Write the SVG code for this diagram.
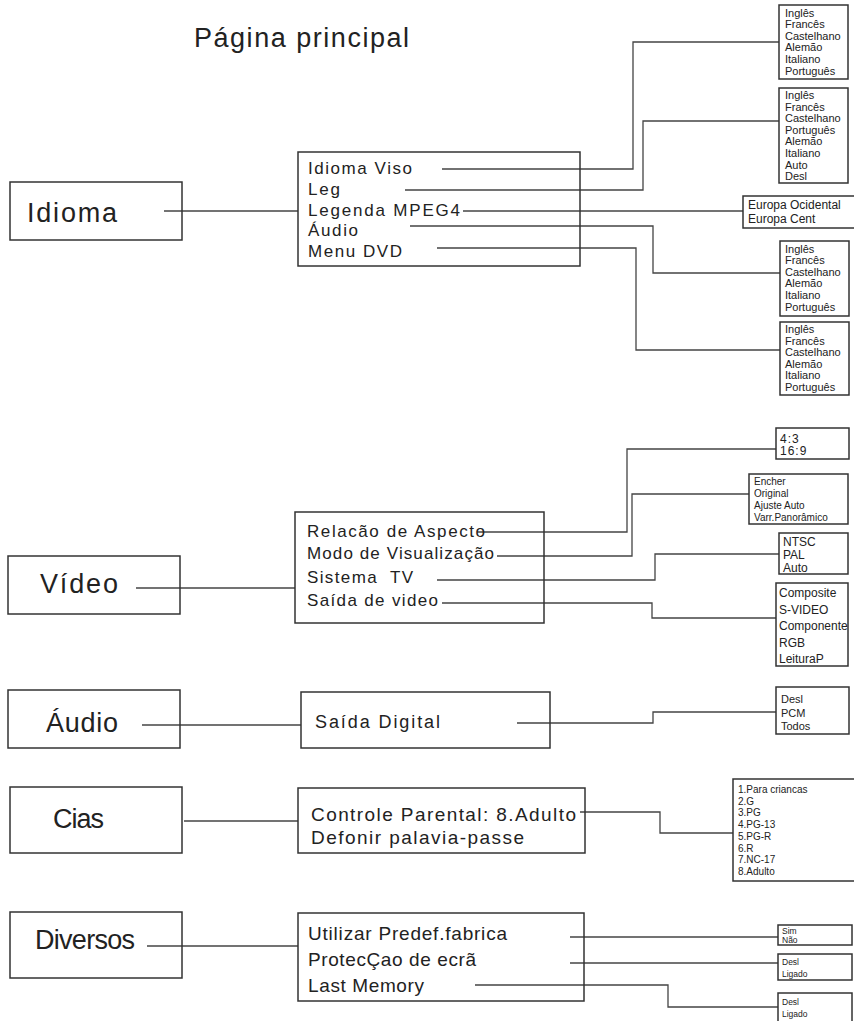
<svg xmlns="http://www.w3.org/2000/svg" width="854" height="1021" viewBox="0 0 854 1021">
<style>
.bg{fill:#ffffff}
.box{fill:none;stroke:#333333;stroke-width:1.5}
.t{font-family:"Liberation Sans",Arial,Helvetica,sans-serif;fill:#222222}
.big{font-size:27px}
.mid{font-size:17px}
.sub{font-size:19px}
.s12{font-size:12px}
.s11{font-size:11px}
.s10{font-size:10px}
.s9{font-size:8.5px}
.conn path{fill:none;stroke:#444444;stroke-width:1.3}
</style>
<rect class="bg" x="0" y="0" width="854" height="1021"/>
<text class="t" x="194" y="47" font-size="27" textLength="215" lengthAdjust="spacing">Página principal</text>

<g id="connectors" class="conn">
<path d="M164 211H298"/>
<path d="M442 169H633V42H779"/>
<path d="M405 190H643V121H779"/>
<path d="M463 211H743"/>
<path d="M410 226H653V273H780"/>
<path d="M437 248H636V350H780"/>
<path d="M136 588H295"/>
<path d="M477 532H627V449H776"/>
<path d="M497 556H632V494H749"/>
<path d="M437 580H655V554H779"/>
<path d="M442 603H652V618H776"/>
<path d="M142 725H301"/>
<path d="M517 723H653V712H776"/>
<path d="M184 821H298"/>
<path d="M580 812H660V833H733"/>
<path d="M147 946H298"/>
<path d="M570 937H778"/>
<path d="M570 963H778"/>
<path d="M475 985H668V1007H778"/>
</g>

<g id="idioma">
<rect class="box" x="10" y="182" width="172" height="58"/>
<text class="t big" x="27" y="222" textLength="90" lengthAdjust="spacing">Idioma</text>
</g>
<g id="idioma-menu">
<rect class="box" x="298" y="152" width="282" height="114"/>
<text class="t mid" x="308" y="174" textLength="104" lengthAdjust="spacing">Idioma Viso</text>
<text class="t mid" x="308" y="195" textLength="32" lengthAdjust="spacing">Leg</text>
<text class="t mid" x="308" y="216" textLength="152" lengthAdjust="spacing">Legenda MPEG4</text>
<text class="t mid" x="308" y="236" textLength="50" lengthAdjust="spacing">Áudio</text>
<text class="t mid" x="308" y="257" textLength="94" lengthAdjust="spacing">Menu DVD</text>
</g>
<g id="idioma-viso-opts">
<rect class="box" x="779" y="5" width="69" height="74"/>
<text class="t s11" x="785" y="16.5">Inglês</text>
<text class="t s11" x="785" y="28.1">Francês</text>
<text class="t s11" x="785" y="39.7">Castelhano</text>
<text class="t s11" x="785" y="51.3">Alemão</text>
<text class="t s11" x="785" y="62.9">Italiano</text>
<text class="t s11" x="785" y="74.5">Português</text>
</g>
<g id="leg-opts">
<rect class="box" x="779" y="88" width="69" height="95"/>
<text class="t s11" x="785" y="99">Inglês</text>
<text class="t s11" x="785" y="110.6">Francês</text>
<text class="t s11" x="785" y="122.2">Castelhano</text>
<text class="t s11" x="785" y="133.8">Português</text>
<text class="t s11" x="785" y="145.4">Alemão</text>
<text class="t s11" x="785" y="157">Italiano</text>
<text class="t s11" x="785" y="168.6">Auto</text>
<text class="t s11" x="785" y="180.2">Desl</text>
</g>
<g id="mpeg4-opts">
<rect class="box" x="743" y="196" width="113" height="32"/>
<text class="t s12" x="748" y="209">Europa Ocidental</text>
<text class="t s12" x="748" y="223">Europa Cent</text>
</g>
<g id="audio-lang-opts">
<rect class="box" x="780" y="241" width="69" height="75"/>
<text class="t s11" x="785" y="252.5">Inglês</text>
<text class="t s11" x="785" y="264.1">Francês</text>
<text class="t s11" x="785" y="275.7">Castelhano</text>
<text class="t s11" x="785" y="287.3">Alemão</text>
<text class="t s11" x="785" y="298.9">Italiano</text>
<text class="t s11" x="785" y="310.5">Português</text>
</g>
<g id="menu-dvd-opts">
<rect class="box" x="780" y="322" width="69" height="73"/>
<text class="t s11" x="785" y="333">Inglês</text>
<text class="t s11" x="785" y="344.6">Francês</text>
<text class="t s11" x="785" y="356.2">Castelhano</text>
<text class="t s11" x="785" y="367.8">Alemão</text>
<text class="t s11" x="785" y="379.4">Italiano</text>
<text class="t s11" x="785" y="391">Português</text>
</g>

<g id="video">
<rect class="box" x="8" y="556" width="172" height="58"/>
<text class="t big" x="40" y="593" textLength="78" lengthAdjust="spacing">Vídeo</text>
</g>
<g id="video-menu">
<rect class="box" x="295" y="512" width="249" height="111"/>
<text class="t mid" x="307" y="537" textLength="178" lengthAdjust="spacing">Relacão de Aspecto</text>
<text class="t mid" x="307" y="559" textLength="187" lengthAdjust="spacing">Modo de Visualização</text>
<text class="t mid" x="307" y="583" textLength="106" lengthAdjust="spacing" xml:space="preserve">Sistema  TV</text>
<text class="t mid" x="307" y="606" textLength="131" lengthAdjust="spacing">Saída de video</text>
</g>
<g id="aspect-opts">
<rect class="box" x="776" y="428" width="73" height="31"/>
<text class="t s12" x="780" y="443" letter-spacing="1">4:3</text>
<text class="t s12" x="780" y="455" letter-spacing="1">16:9</text>
</g>
<g id="view-opts">
<rect class="box" x="749" y="474" width="99" height="50"/>
<text class="t s10" x="754" y="485">Encher</text>
<text class="t s10" x="754" y="497">Original</text>
<text class="t s10" x="754" y="509">Ajuste Auto</text>
<text class="t s10" x="754" y="521">Varr.Panorâmico</text>
</g>
<g id="tv-opts">
<rect class="box" x="779" y="533" width="69" height="41"/>
<text class="t s12" x="783" y="546">NTSC</text>
<text class="t s12" x="783" y="559">PAL</text>
<text class="t s12" x="783" y="572">Auto</text>
</g>
<g id="video-out-opts">
<rect class="box" x="776" y="583" width="72" height="83"/>
<text class="t s12" x="779" y="597">Composite</text>
<text class="t s12" x="779" y="613.5">S-VIDEO</text>
<text class="t s12" x="779" y="630">Componente</text>
<text class="t s12" x="779" y="647">RGB</text>
<text class="t s12" x="779" y="663">LeituraP</text>
</g>

<g id="audio">
<rect class="box" x="8" y="690" width="172" height="58"/>
<text class="t big" x="46" y="732" textLength="72" lengthAdjust="spacing">Áudio</text>
</g>
<g id="audio-menu">
<rect class="box" x="301" y="692" width="249" height="56"/>
<text class="t" x="315" y="728" font-size="18" textLength="125" lengthAdjust="spacing">Saída Digital</text>
</g>
<g id="digital-opts">
<rect class="box" x="776" y="687" width="73" height="47"/>
<text class="t s11" x="781" y="703">Desl</text>
<text class="t s11" x="781" y="716.5">PCM</text>
<text class="t s11" x="781" y="730">Todos</text>
</g>

<g id="cias">
<rect class="box" x="10" y="787" width="172" height="66"/>
<text class="t big" x="53" y="828" textLength="51" lengthAdjust="spacing">Cias</text>
</g>
<g id="cias-menu">
<rect class="box" x="298" y="788" width="287" height="65"/>
<text class="t sub" x="311" y="821" textLength="265" lengthAdjust="spacing">Controle Parental: 8.Adulto</text>
<text class="t sub" x="311" y="844" textLength="213" lengthAdjust="spacing">Defonir palavia-passe</text>
</g>
<g id="rating-opts">
<rect class="box" x="733" y="779" width="123" height="102"/>
<text class="t s10" x="738" y="793">1.Para criancas</text>
<text class="t s10" x="738" y="804.7">2.G</text>
<text class="t s10" x="738" y="816.4">3.PG</text>
<text class="t s10" x="738" y="828.1">4.PG-13</text>
<text class="t s10" x="738" y="839.8">5.PG-R</text>
<text class="t s10" x="738" y="851.5">6.R</text>
<text class="t s10" x="738" y="863.2">7.NC-17</text>
<text class="t s10" x="738" y="874.9">8.Adulto</text>
</g>

<g id="diversos">
<rect class="box" x="10" y="912" width="172" height="66"/>
<text class="t big" x="35" y="949" textLength="100" lengthAdjust="spacing">Diversos</text>
</g>
<g id="diversos-menu">
<rect class="box" x="298" y="913" width="286" height="88"/>
<text class="t sub" x="308" y="940" textLength="199" lengthAdjust="spacing">Utilizar Predef.fabrica</text>
<text class="t sub" x="308" y="966" textLength="168" lengthAdjust="spacing">ProtecÇao de ecrã</text>
<text class="t sub" x="308" y="992" textLength="116" lengthAdjust="spacing">Last Memory</text>
</g>
<g id="factory-opts">
<rect class="box" x="778" y="925" width="74" height="20"/>
<text class="t s9" x="782" y="933.5">Sim</text>
<text class="t s9" x="782" y="943">Não</text>
</g>
<g id="screensaver-opts">
<rect class="box" x="778" y="954" width="74" height="26"/>
<text class="t s9" x="782" y="965">Desl</text>
<text class="t s9" x="782" y="976.5">Ligado</text>
</g>
<g id="lastmem-opts">
<rect class="box" x="778" y="993" width="74" height="32"/>
<text class="t s9" x="782" y="1005">Desl</text>
<text class="t s9" x="782" y="1017">Ligado</text>
</g>
</svg>
